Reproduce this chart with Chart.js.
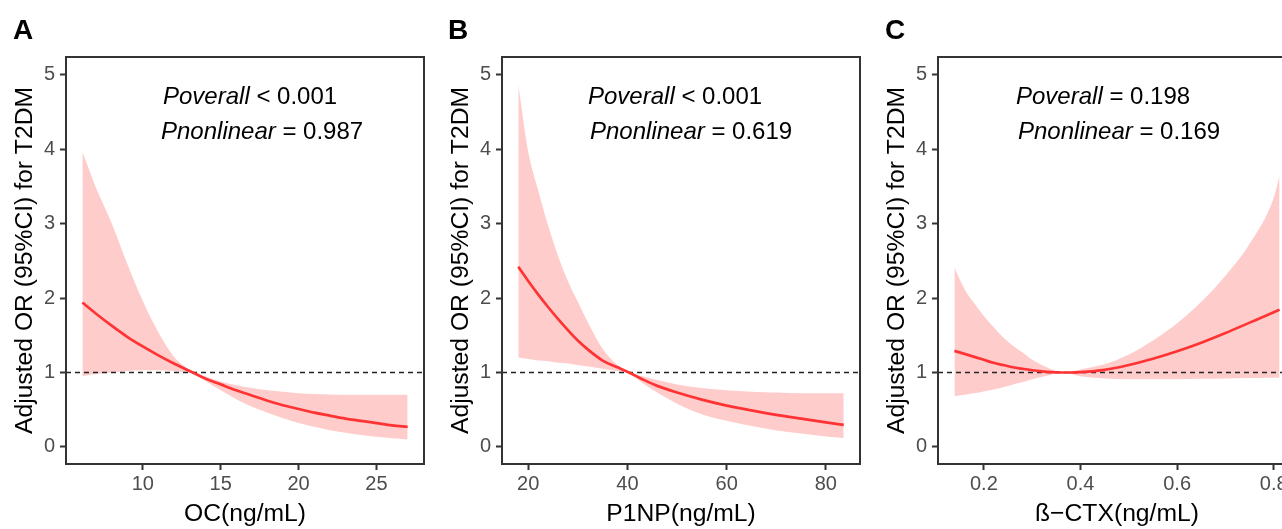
<!DOCTYPE html>
<html>
<head>
<meta charset="utf-8">
<script src="https://cdn.jsdelivr.net/npm/chart.js@4.4.1/dist/chart.umd.min.js"></script>
<style>
  html, body { margin: 0; padding: 0; background: #fff; overflow: hidden; }
  #wrap { position: relative; width: 1308px; height: 529px; }
  #wrap canvas { position: absolute; top: 0; }
</style>
</head>
<body>
<div id="wrap">
  <canvas id="chartA" width="436" height="529" style="left:0px"></canvas>
  <canvas id="chartB" width="436" height="529" style="left:436px"></canvas>
  <canvas id="chartC" width="436" height="529" style="left:872px"></canvas>
</div>
<script>
// shared y axis
const yTicks = [0, 1, 2, 3, 4, 5];
const yTitle = 'Adjusted OR (95%CI) for T2DM';
const refOR = 1;

// panel A - OC
const xA = [6.12, 7, 8, 9, 10, 11, 12, 13, 13.2, 14, 15, 16, 17, 18, 19, 20, 21, 22, 23, 24, 25, 26, 27.0];
const orA = [1.94, 1.79, 1.63, 1.48, 1.35, 1.23, 1.12, 1.02, 1.0, 0.92, 0.84, 0.76, 0.69, 0.62, 0.56, 0.51, 0.46, 0.42, 0.38, 0.35, 0.32, 0.29, 0.27];
const upperA = [3.97, 3.48, 3.01, 2.46, 1.96, 1.54, 1.21, 1.03, 1.0, 0.95, 0.88, 0.83, 0.79, 0.76, 0.74, 0.72, 0.71, 0.705, 0.70, 0.70, 0.70, 0.70, 0.70];
const lowerA = [0.95, 0.98, 1.00, 1.02, 1.03, 1.03, 1.02, 1.00, 1.0, 0.89, 0.76, 0.64, 0.54, 0.46, 0.385, 0.32, 0.27, 0.225, 0.19, 0.16, 0.135, 0.115, 0.10];
const xTicksA = [10, 15, 20, 25];

// panel B - P1NP
const xB = [18.0, 20, 22, 24, 26, 28, 30, 32, 35, 38, 40.3, 43, 46, 50, 55, 60, 65, 70, 75, 80, 83.6];
const orB = [2.42, 2.23, 2.05, 1.88, 1.72, 1.57, 1.43, 1.31, 1.16, 1.07, 1.0, 0.91, 0.82, 0.73, 0.635, 0.555, 0.49, 0.43, 0.38, 0.33, 0.295];
const upperB = [4.87, 3.97, 3.45, 2.98, 2.57, 2.23, 1.95, 1.68, 1.32, 1.10, 1.0, 0.95, 0.90, 0.84, 0.79, 0.76, 0.74, 0.73, 0.72, 0.72, 0.72];
const lowerB = [1.20, 1.18, 1.16, 1.15, 1.13, 1.12, 1.10, 1.08, 1.05, 1.02, 1.0, 0.86, 0.73, 0.58, 0.44, 0.35, 0.28, 0.22, 0.18, 0.14, 0.12];
const xTicksB = [20, 40, 60, 80];

// panel C - beta-CTX
const xC = [0.139, 0.16, 0.18, 0.20, 0.22, 0.24, 0.26, 0.28, 0.30, 0.32, 0.34, 0.36, 0.38, 0.40, 0.45, 0.50, 0.55, 0.60, 0.65, 0.70, 0.75, 0.80, 0.812];
const orC = [1.29, 1.25, 1.21, 1.17, 1.13, 1.10, 1.07, 1.05, 1.03, 1.015, 1.005, 1.0, 1.0, 1.005, 1.035, 1.10, 1.185, 1.285, 1.40, 1.53, 1.67, 1.81, 1.845];
const upperC = [2.41, 2.12, 1.93, 1.76, 1.61, 1.47, 1.36, 1.27, 1.17, 1.10, 1.04, 1.0, 1.01, 1.04, 1.11, 1.24, 1.43, 1.66, 1.95, 2.30, 2.73, 3.35, 3.64];
const lowerC = [0.68, 0.70, 0.72, 0.745, 0.77, 0.80, 0.84, 0.87, 0.91, 0.94, 0.97, 1.0, 0.98, 0.95, 0.92, 0.91, 0.91, 0.91, 0.915, 0.92, 0.925, 0.93, 0.93];
const xTicksC = [0.2, 0.4, 0.6, 0.8];

const family = '"Liberation Sans", Arial, Helvetica, sans-serif';

// box, panel letter and p-value text
const panelDecor = {
    id: 'panelDecor',
    afterDraw(chart, args, opts) {
        const { ctx, chartArea: a } = chart;
        ctx.save();
        ctx.strokeStyle = '#333333';
        ctx.lineWidth = 2;
        ctx.strokeRect(a.left, a.top, a.right - a.left, a.bottom - a.top);

        ctx.fillStyle = '#000';
        ctx.textBaseline = 'alphabetic';
        ctx.textAlign = 'left';
        ctx.font = 'bold 28px ' + family;
        ctx.fillText(opts.letter, opts.letterX, 39);

        opts.lines.forEach(line => {
            const x = a.left + line.dx;
            const y = a.top + line.dy;
            ctx.font = 'italic 24px ' + family;
            ctx.fillText(line.label, x, y);
            const w = ctx.measureText(line.label).width;
            ctx.font = '24px ' + family;
            ctx.fillText(line.value, x + w, y);
        });
        ctx.restore();
    }
};

function buildPanel(id, p) {
    const toPts = ys => p.x.map((x, i) => ({ x: x, y: ys[i] }));
    return new Chart(document.getElementById(id), {
        type: 'line',
        data: {
            datasets: [
                {
                    data: toPts(p.or),
                    borderColor: '#ff3333',
                    borderWidth: 2.7,
                    pointRadius: 0,
                    cubicInterpolationMode: 'monotone',
                    fill: false
                },
                {
                    data: [{ x: p.xMin, y: refOR }, { x: p.xMax, y: refOR }],
                    borderColor: '#222222',
                    borderWidth: 1.5,
                    borderDash: [5, 4],
                    pointRadius: 0,
                    fill: false
                },
                {
                    data: toPts(p.upper),
                    borderColor: 'transparent',
                    borderWidth: 0,
                    pointRadius: 0,
                    backgroundColor: 'rgba(255, 0, 0, 0.2)',
                    cubicInterpolationMode: 'monotone',
                    fill: '+1'
                },
                {
                    data: toPts(p.lower),
                    borderColor: 'transparent',
                    borderWidth: 0,
                    pointRadius: 0,
                    cubicInterpolationMode: 'monotone',
                    fill: false
                }
            ]
        },
        options: {
            responsive: false,
            animation: false,
            devicePixelRatio: 1,
            layout: { padding: { top: 57, right: 12, bottom: 0, left: 0 } },
            plugins: {
                legend: { display: false },
                tooltip: { enabled: false },
                panelDecor: { letter: p.letter, letterX: p.letterX, lines: p.lines }
            },
            scales: {
                x: {
                    type: 'linear',
                    min: p.xMin,
                    max: p.xMax,
                    afterBuildTicks: s => { s.ticks = p.xTicks.map(v => ({ value: v })); },
                    afterFit: s => { s.height = 65; },
                    grid: { drawOnChartArea: false, tickLength: 6, tickColor: '#333333', tickWidth: 2 },
                    border: { display: false },
                    ticks: { color: '#4d4d4d', font: { size: 20, family: family }, padding: 2, maxRotation: 0, autoSkip: false },
                    title: { display: true, text: p.xTitle, color: '#000', font: { size: 24.7, family: family }, padding: { top: 0, bottom: 0 } }
                },
                y: {
                    type: 'linear',
                    min: -0.23,
                    max: 5.24,
                    afterBuildTicks: s => { s.ticks = yTicks.map(v => ({ value: v })); },
                    afterFit: s => { s.width = 66; },
                    grid: { drawOnChartArea: false, tickLength: 6, tickColor: '#333333', tickWidth: 2 },
                    border: { display: false },
                    ticks: { color: '#4d4d4d', font: { size: 20, family: family }, padding: 5 },
                    title: { display: true, text: yTitle, color: '#000', font: { size: 24.7, family: family }, padding: { top: 10, bottom: 0 } }
                }
            }
        },
        plugins: [panelDecor]
    });
}

buildPanel('chartA', {
    letter: 'A', letterX: 13,
    x: xA, or: orA, upper: upperA, lower: lowerA,
    xMin: 5.07, xMax: 28.05, xTicks: xTicksA, xTitle: 'OC(ng/mL)',
    lines: [
        { label: 'Poverall', value: ' < 0.001', dx: 97, dy: 46.5 },
        { label: 'Pnonlinear', value: ' = 0.987', dx: 95, dy: 81.5 }
    ]
});

buildPanel('chartB', {
    letter: 'B', letterX: 12,
    x: xB, or: orB, upper: upperB, lower: lowerB,
    xMin: 14.72, xMax: 86.88, xTicks: xTicksB, xTitle: 'P1NP(ng/mL)',
    lines: [
        { label: 'Poverall', value: ' < 0.001', dx: 86, dy: 46.5 },
        { label: 'Pnonlinear', value: ' = 0.619', dx: 88, dy: 81.5 }
    ]
});

buildPanel('chartC', {
    letter: 'C', letterX: 13,
    x: xC, or: orC, upper: upperC, lower: lowerC,
    xMin: 0.105, xMax: 0.846, xTicks: xTicksC, xTitle: 'ß−CTX(ng/mL)',
    lines: [
        { label: 'Poverall', value: ' = 0.198', dx: 78, dy: 46.5 },
        { label: 'Pnonlinear', value: ' = 0.169', dx: 80, dy: 81.5 }
    ]
});
</script>
</body>
</html>
